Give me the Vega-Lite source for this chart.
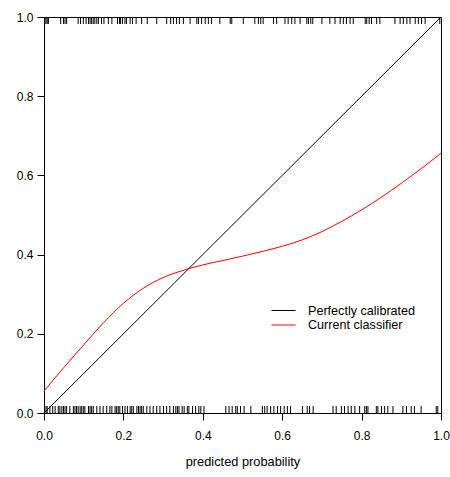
{
  "$schema": "https://vega.github.io/schema/vega-lite/v6.json",
  "width": 397,
  "height": 396,
  "autosize": {"type": "none"},
  "padding": {"left": 44, "top": 17, "right": 9, "bottom": 64},
  "background": "white",
  "config": {
    "view": {"stroke": "black", "strokeWidth": 1},
    "font": "Liberation Sans",
    "axis": {
      "grid": false,
      "domainColor": "black",
      "domainWidth": 1,
      "tickColor": "black",
      "tickWidth": 1,
      "tickSize": 7,
      "labelColor": "black",
      "labelFont": "Liberation Sans",
      "labelFontSize": 12,
      "labelFlush": false,
      "labelOverlap": false,
      "labelBound": false,
      "titleColor": "black",
      "titleFont": "Liberation Sans",
      "titleFontSize": 12.8,
      "titleFontWeight": "normal"
    }
  },
  "datasets": {
    "rug": [
      {"p": 0.005, "outcome": 0}, {"p": 0.008, "outcome": 0}, {"p": 0.015, "outcome": 0}, {"p": 0.022, "outcome": 0},
      {"p": 0.028, "outcome": 0}, {"p": 0.036, "outcome": 0}, {"p": 0.040, "outcome": 0}, {"p": 0.045, "outcome": 0},
      {"p": 0.049, "outcome": 0}, {"p": 0.053, "outcome": 0}, {"p": 0.057, "outcome": 0}, {"p": 0.065, "outcome": 0},
      {"p": 0.074, "outcome": 0}, {"p": 0.078, "outcome": 0}, {"p": 0.082, "outcome": 0}, {"p": 0.086, "outcome": 0},
      {"p": 0.091, "outcome": 0}, {"p": 0.095, "outcome": 0}, {"p": 0.099, "outcome": 0}, {"p": 0.103, "outcome": 0},
      {"p": 0.112, "outcome": 0}, {"p": 0.116, "outcome": 0}, {"p": 0.120, "outcome": 0}, {"p": 0.124, "outcome": 0},
      {"p": 0.133, "outcome": 0}, {"p": 0.141, "outcome": 0}, {"p": 0.149, "outcome": 0}, {"p": 0.158, "outcome": 0},
      {"p": 0.166, "outcome": 0}, {"p": 0.171, "outcome": 0}, {"p": 0.179, "outcome": 0}, {"p": 0.183, "outcome": 0},
      {"p": 0.187, "outcome": 0}, {"p": 0.191, "outcome": 0}, {"p": 0.198, "outcome": 0}, {"p": 0.204, "outcome": 0},
      {"p": 0.210, "outcome": 0}, {"p": 0.217, "outcome": 0}, {"p": 0.221, "outcome": 0}, {"p": 0.225, "outcome": 0},
      {"p": 0.234, "outcome": 0}, {"p": 0.238, "outcome": 0}, {"p": 0.242, "outcome": 0}, {"p": 0.246, "outcome": 0},
      {"p": 0.250, "outcome": 0}, {"p": 0.259, "outcome": 0}, {"p": 0.267, "outcome": 0}, {"p": 0.275, "outcome": 0},
      {"p": 0.284, "outcome": 0}, {"p": 0.292, "outcome": 0}, {"p": 0.301, "outcome": 0}, {"p": 0.309, "outcome": 0},
      {"p": 0.317, "outcome": 0}, {"p": 0.326, "outcome": 0}, {"p": 0.332, "outcome": 0}, {"p": 0.336, "outcome": 0},
      {"p": 0.340, "outcome": 0}, {"p": 0.348, "outcome": 0}, {"p": 0.353, "outcome": 0}, {"p": 0.361, "outcome": 0},
      {"p": 0.365, "outcome": 0}, {"p": 0.374, "outcome": 0}, {"p": 0.382, "outcome": 0}, {"p": 0.390, "outcome": 0},
      {"p": 0.395, "outcome": 0}, {"p": 0.403, "outcome": 0}, {"p": 0.458, "outcome": 0}, {"p": 0.466, "outcome": 0},
      {"p": 0.474, "outcome": 0}, {"p": 0.483, "outcome": 0}, {"p": 0.487, "outcome": 0}, {"p": 0.495, "outcome": 0},
      {"p": 0.504, "outcome": 0}, {"p": 0.521, "outcome": 0}, {"p": 0.550, "outcome": 0}, {"p": 0.556, "outcome": 0},
      {"p": 0.562, "outcome": 0}, {"p": 0.571, "outcome": 0}, {"p": 0.579, "outcome": 0}, {"p": 0.588, "outcome": 0},
      {"p": 0.596, "outcome": 0}, {"p": 0.605, "outcome": 0}, {"p": 0.613, "outcome": 0}, {"p": 0.621, "outcome": 0},
      {"p": 0.651, "outcome": 0}, {"p": 0.663, "outcome": 0}, {"p": 0.669, "outcome": 0}, {"p": 0.678, "outcome": 0},
      {"p": 0.728, "outcome": 0}, {"p": 0.736, "outcome": 0}, {"p": 0.749, "outcome": 0}, {"p": 0.757, "outcome": 0},
      {"p": 0.766, "outcome": 0}, {"p": 0.774, "outcome": 0}, {"p": 0.783, "outcome": 0}, {"p": 0.795, "outcome": 0},
      {"p": 0.808, "outcome": 0}, {"p": 0.812, "outcome": 0}, {"p": 0.816, "outcome": 0}, {"p": 0.837, "outcome": 0},
      {"p": 0.841, "outcome": 0}, {"p": 0.850, "outcome": 0}, {"p": 0.858, "outcome": 0}, {"p": 0.866, "outcome": 0},
      {"p": 0.879, "outcome": 0}, {"p": 0.904, "outcome": 0}, {"p": 0.913, "outcome": 0}, {"p": 0.925, "outcome": 0},
      {"p": 0.933, "outcome": 0}, {"p": 0.950, "outcome": 0}, {"p": 0.988, "outcome": 0}, {"p": 0.992, "outcome": 0},
      {"p": 0.002, "outcome": 1}, {"p": 0.005, "outcome": 1}, {"p": 0.008, "outcome": 1}, {"p": 0.011, "outcome": 1},
      {"p": 0.042, "outcome": 1}, {"p": 0.049, "outcome": 1}, {"p": 0.053, "outcome": 1}, {"p": 0.057, "outcome": 1},
      {"p": 0.086, "outcome": 1}, {"p": 0.092, "outcome": 1}, {"p": 0.099, "outcome": 1}, {"p": 0.106, "outcome": 1},
      {"p": 0.112, "outcome": 1}, {"p": 0.116, "outcome": 1}, {"p": 0.120, "outcome": 1}, {"p": 0.124, "outcome": 1},
      {"p": 0.128, "outcome": 1}, {"p": 0.133, "outcome": 1}, {"p": 0.137, "outcome": 1}, {"p": 0.145, "outcome": 1},
      {"p": 0.151, "outcome": 1}, {"p": 0.162, "outcome": 1}, {"p": 0.171, "outcome": 1}, {"p": 0.185, "outcome": 1},
      {"p": 0.190, "outcome": 1}, {"p": 0.193, "outcome": 1}, {"p": 0.198, "outcome": 1}, {"p": 0.204, "outcome": 1},
      {"p": 0.208, "outcome": 1}, {"p": 0.217, "outcome": 1}, {"p": 0.223, "outcome": 1}, {"p": 0.232, "outcome": 1},
      {"p": 0.246, "outcome": 1}, {"p": 0.260, "outcome": 1}, {"p": 0.284, "outcome": 1}, {"p": 0.309, "outcome": 1},
      {"p": 0.319, "outcome": 1}, {"p": 0.326, "outcome": 1}, {"p": 0.334, "outcome": 1}, {"p": 0.341, "outcome": 1},
      {"p": 0.351, "outcome": 1}, {"p": 0.368, "outcome": 1}, {"p": 0.385, "outcome": 1}, {"p": 0.389, "outcome": 1},
      {"p": 0.397, "outcome": 1}, {"p": 0.406, "outcome": 1}, {"p": 0.414, "outcome": 1}, {"p": 0.422, "outcome": 1},
      {"p": 0.443, "outcome": 1}, {"p": 0.469, "outcome": 1}, {"p": 0.473, "outcome": 1}, {"p": 0.502, "outcome": 1},
      {"p": 0.531, "outcome": 1}, {"p": 0.540, "outcome": 1}, {"p": 0.546, "outcome": 1}, {"p": 0.552, "outcome": 1},
      {"p": 0.578, "outcome": 1}, {"p": 0.586, "outcome": 1}, {"p": 0.607, "outcome": 1}, {"p": 0.615, "outcome": 1},
      {"p": 0.624, "outcome": 1}, {"p": 0.632, "outcome": 1}, {"p": 0.645, "outcome": 1}, {"p": 0.662, "outcome": 1},
      {"p": 0.666, "outcome": 1}, {"p": 0.672, "outcome": 1}, {"p": 0.677, "outcome": 1}, {"p": 0.700, "outcome": 1},
      {"p": 0.720, "outcome": 1}, {"p": 0.733, "outcome": 1}, {"p": 0.746, "outcome": 1}, {"p": 0.754, "outcome": 1},
      {"p": 0.762, "outcome": 1}, {"p": 0.771, "outcome": 1}, {"p": 0.779, "outcome": 1}, {"p": 0.809, "outcome": 1},
      {"p": 0.813, "outcome": 1}, {"p": 0.819, "outcome": 1}, {"p": 0.825, "outcome": 1}, {"p": 0.838, "outcome": 1},
      {"p": 0.846, "outcome": 1}, {"p": 0.884, "outcome": 1}, {"p": 0.897, "outcome": 1}, {"p": 0.905, "outcome": 1},
      {"p": 0.914, "outcome": 1}, {"p": 0.922, "outcome": 1}, {"p": 0.935, "outcome": 1}, {"p": 0.943, "outcome": 1},
      {"p": 0.951, "outcome": 1}, {"p": 0.960, "outcome": 1}, {"p": 0.997, "outcome": 1}
    ],
    "curves": [
      {"series": "Perfectly calibrated", "p": 0.0, "observed": 0.0},
      {"series": "Perfectly calibrated", "p": 1.0, "observed": 1.0},
      {"series": "Current classifier", "p": 0.00, "observed": 0.055},
      {"series": "Current classifier", "p": 0.05, "observed": 0.115},
      {"series": "Current classifier", "p": 0.10, "observed": 0.172},
      {"series": "Current classifier", "p": 0.15, "observed": 0.228},
      {"series": "Current classifier", "p": 0.20, "observed": 0.277},
      {"series": "Current classifier", "p": 0.25, "observed": 0.315},
      {"series": "Current classifier", "p": 0.30, "observed": 0.342},
      {"series": "Current classifier", "p": 0.35, "observed": 0.360},
      {"series": "Current classifier", "p": 0.40, "observed": 0.374},
      {"series": "Current classifier", "p": 0.45, "observed": 0.385},
      {"series": "Current classifier", "p": 0.50, "observed": 0.396},
      {"series": "Current classifier", "p": 0.55, "observed": 0.408},
      {"series": "Current classifier", "p": 0.60, "observed": 0.421},
      {"series": "Current classifier", "p": 0.65, "observed": 0.437},
      {"series": "Current classifier", "p": 0.70, "observed": 0.458},
      {"series": "Current classifier", "p": 0.75, "observed": 0.484},
      {"series": "Current classifier", "p": 0.80, "observed": 0.513},
      {"series": "Current classifier", "p": 0.85, "observed": 0.545},
      {"series": "Current classifier", "p": 0.90, "observed": 0.580},
      {"series": "Current classifier", "p": 0.95, "observed": 0.617},
      {"series": "Current classifier", "p": 1.00, "observed": 0.656}
    ]
  },
  "encoding": {
    "x": {
      "type": "quantitative",
      "scale": {"domain": [0, 1], "nice": false, "zero": false},
      "axis": {
        "title": "predicted probability",
        "values": [0, 0.2, 0.4, 0.6, 0.8, 1],
        "format": ".1f",
        "labelPadding": 10,
        "titlePadding": 14
      }
    },
    "y": {
      "type": "quantitative",
      "scale": {"domain": [0, 1], "nice": false, "zero": false},
      "axis": {
        "title": null,
        "values": [0, 0.2, 0.4, 0.6, 0.8, 1],
        "format": ".1f",
        "labelPadding": 4
      }
    }
  },
  "layer": [
    {
      "data": {"name": "rug"},
      "transform": [{"filter": "datum.outcome === 0"}],
      "mark": {"type": "rule", "color": "black", "strokeWidth": 1, "y2Offset": -7},
      "encoding": {
        "x": {"field": "p"},
        "y": {"datum": 0},
        "y2": {"datum": 0}
      }
    },
    {
      "data": {"name": "rug"},
      "transform": [{"filter": "datum.outcome === 1"}],
      "mark": {"type": "rule", "color": "black", "strokeWidth": 1, "y2Offset": 7},
      "encoding": {
        "x": {"field": "p"},
        "y": {"datum": 1},
        "y2": {"datum": 1}
      }
    },
    {
      "data": {"name": "curves"},
      "mark": {"type": "line", "strokeWidth": 1, "interpolate": "monotone"},
      "encoding": {
        "x": {"field": "p"},
        "y": {"field": "observed"},
        "color": {
          "field": "series",
          "type": "nominal",
          "scale": {"domain": ["Perfectly calibrated", "Current classifier"], "range": ["black", "red"]},
          "legend": {
            "title": null,
            "orient": "none",
            "legendX": 233,
            "legendY": 287,
            "padding": 0,
            "symbolType": "M-2,0H2",
            "symbolSize": 144,
            "symbolStrokeWidth": 1,
            "symbolFillColor": "transparent",
            "labelFont": "Liberation Sans",
            "labelFontSize": 12.6,
            "labelColor": "black",
            "labelOffset": 18,
            "rowPadding": 0.5
          }
        }
      }
    }
  ]
}
